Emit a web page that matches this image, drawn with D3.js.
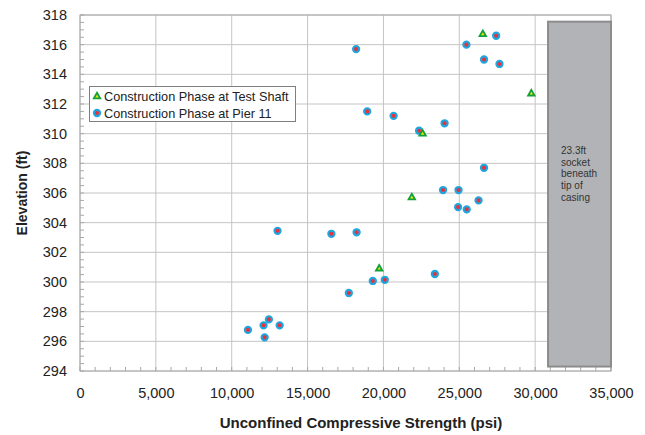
<!DOCTYPE html>
<html><head><meta charset="utf-8">
<script src="https://cdn.jsdelivr.net/npm/d3@7"></script>
<style>body{margin:0;background:#fff}svg{display:block;font-family:"Liberation Sans",Arial,sans-serif}</style>
</head><body><svg id="c" width="645" height="435"></svg>
<script>
const xTicks = [0,5000,10000,15000,20000,25000,30000,35000];
const yTicks = [294,296,298,300,302,304,306,308,310,312,314,316,318];
const seriesNames = ["Construction Phase at Test Shaft","Construction Phase at Pier 11"];
const shaftX = [26550,29750,22580,21870,19720];
const shaftY = [316.7,312.7,310.0,305.7,300.9];
const pierX = [18200,27430,25470,26630,27650,18930,20670,22350,24030,26630,23930,24950,26270,24920,25490,13020,16570,18230,19300,20090,17720,23390,11070,12100,12450,13160,12170];
const pierY = [315.7,316.6,316.0,315.0,314.7,311.5,311.2,310.2,310.7,307.7,306.2,306.2,305.5,305.05,304.9,303.45,303.25,303.35,300.07,300.15,299.26,300.54,296.77,297.08,297.48,297.08,296.27];
const boxX = [30850,35000];
const boxY = [294.3,317.55];
const boxLines = ["23.3ft","socket","beneath","tip of","casing"];
const xTitle = "Unconfined Compressive Strength (psi)";
const yTitle = "Elevation (ft)";

const svg = d3.select("#c");
const L=80,R=611,T=15,B=371;
const x = d3.scaleLinear().domain([0,35000]).range([L,R]);
const y = d3.scaleLinear().domain([294,318]).range([B,T]);
const grid = "#c4c4c4";

// gridlines
svg.append("g").selectAll("line").data(yTicks).join("line")
  .attr("x1",L).attr("x2",R).attr("y1",d=>y(d)).attr("y2",d=>y(d))
  .attr("stroke",grid).attr("stroke-width",1);
svg.append("g").selectAll("line").data(xTicks).join("line")
  .attr("y1",T).attr("y2",B).attr("x1",d=>x(d)).attr("x2",d=>x(d))
  .attr("stroke",grid).attr("stroke-width",1);
// minor ticks
const xMinor = d3.range(0,35001,1000);
const yMinor = d3.range(294,318.01,0.5);
svg.append("g").selectAll("line").data(xMinor).join("line")
  .attr("x1",d=>x(d)).attr("x2",d=>x(d)).attr("y1",B).attr("y2",B-4)
  .attr("stroke","#a8a8a8");
svg.append("g").selectAll("line").data(yMinor).join("line")
  .attr("y1",d=>y(d)).attr("y2",d=>y(d)).attr("x1",L).attr("x2",L+4)
  .attr("stroke","#a8a8a8");
// border
svg.append("rect").attr("x",L).attr("y",T).attr("width",R-L).attr("height",B-T)
  .attr("fill","none").attr("stroke","#a8a8a8");

// axes labels
const xAxis = d3.axisBottom(x).tickValues(xTicks).tickSize(0).tickPadding(17)
  .tickFormat(d3.format(","));
const gx = svg.append("g").attr("transform",`translate(0,${B})`).call(xAxis);
gx.select(".domain").remove();
gx.selectAll("text").attr("font-size",14.5).attr("fill","#222").attr("font-family","Liberation Sans, Arial");
const yAxis = d3.axisLeft(y).tickValues(yTicks).tickSize(0).tickPadding(13);
const gy = svg.append("g").attr("transform",`translate(${L},0)`).call(yAxis);
gy.select(".domain").remove();
gy.selectAll("text").attr("font-size",14.5).attr("fill","#222").attr("font-family","Liberation Sans, Arial");

// grey box
svg.append("rect").attr("x",x(boxX[0])).attr("y",y(boxY[1]))
  .attr("width",x(boxX[1])-x(boxX[0])).attr("height",y(boxY[0])-y(boxY[1]))
  .attr("fill","#b2b3b7").attr("stroke","#8c8c8c").attr("stroke-width",2);
svg.append("g").selectAll("text").data(boxLines).join("text")
  .attr("x",x(boxX[0])+13).attr("y",(d,i)=>154+i*11.7)
  .attr("font-size",10).attr("fill","#333").text(d=>d);

// markers
const tri = d3.symbol().type(d3.symbolTriangle).size(18);
function drawTri(g,cx,cy){
  g.append("path").attr("d",tri()).attr("transform",`translate(${cx},${cy})`)
   .attr("fill","#f4e600").attr("stroke","#10a03c").attr("stroke-width",1.8);
}
function drawDot(g,cx,cy){
  g.append("circle").attr("cx",cx).attr("cy",cy).attr("r",3.1)
   .attr("fill","#e8323c").attr("stroke","#1ea6e0").attr("stroke-width",2.1);
}
const gm = svg.append("g");
pierX.forEach((v,i)=>drawDot(gm,x(v),y(pierY[i])));
shaftX.forEach((v,i)=>drawTri(gm,x(v),y(shaftY[i])));

// legend
const lg = svg.append("g");
lg.append("rect").attr("x",89.5).attr("y",86.5).attr("width",206).attr("height",35)
  .attr("fill","#fff").attr("stroke","#7f7f7f");
drawTri(lg,97,96.5);
drawDot(lg,97,113);
lg.selectAll("text").data(seriesNames).join("text")
  .attr("x",104).attr("y",(d,i)=>100.5+i*17.5).attr("font-size",12.7).attr("fill","#222").text(d=>d);

// titles
svg.append("text").attr("x",361).attr("y",428).attr("text-anchor","middle")
  .attr("font-size",15).attr("font-weight","bold").attr("fill","#222").text(xTitle);
svg.append("text").attr("transform",`translate(27,${(T+B)/2}) rotate(-90)`).attr("text-anchor","middle")
  .attr("font-size",14).attr("font-weight","bold").attr("fill","#222").text(yTitle);
</script></body></html>
